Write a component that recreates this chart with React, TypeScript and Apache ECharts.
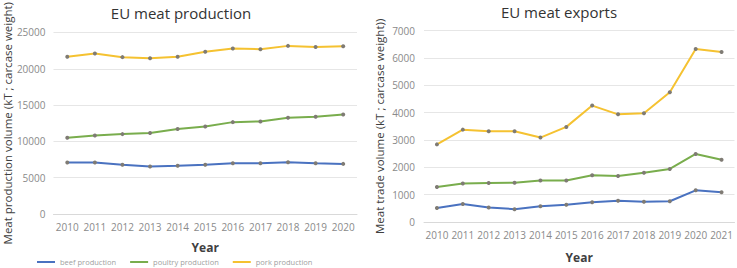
import React, { useEffect, useRef } from "react";
import * as echarts from "echarts";

const prodYears = ["2010", "2011", "2012", "2013", "2014", "2015", "2016", "2017", "2018", "2019", "2020"];
const exportYears = ["2010", "2011", "2012", "2013", "2014", "2015", "2016", "2017", "2018", "2019", "2020", "2021"];

const prodPork = [21650, 22100, 21600, 21450, 21650, 22350, 22800, 22700, 23150, 23000, 23100];
const prodPoultry = [10500, 10800, 11000, 11150, 11700, 12050, 12650, 12750, 13250, 13400, 13700];
const prodBeef = [7080, 7100, 6780, 6540, 6630, 6780, 7000, 7000, 7120, 7000, 6900];

const expPork = [2840, 3380, 3320, 3320, 3090, 3480, 4260, 3940, 3980, 4750, 6330, 6220];
const expPoultry = [1280, 1410, 1430, 1440, 1520, 1520, 1710, 1680, 1800, 1940, 2490, 2280];
const expBeef = [510, 660, 530, 470, 580, 630, 720, 780, 740, 760, 1160, 1090];

const seriesNames = ["beef production", "poultry production", "pork production"];
const seriesColors = ["#4a72c0", "#79ad4d", "#f5c231"];

const FONT = "'Open Sans', sans-serif";

export default function App() {
  const ref = useRef<HTMLDivElement>(null);
  useEffect(() => {
    document.body.style.margin = "0";
    const chart = echarts.init(ref.current!, null, { renderer: "svg" });
    const mkLine = (i: number, data: number[], idx: number) => ({
      type: "line",
      name: seriesNames[i],
      data,
      xAxisIndex: idx,
      yAxisIndex: idx,
      symbol: "circle",
      symbolSize: 4,
      showSymbol: true,
      lineStyle: { color: seriesColors[i], width: 2 },
      itemStyle: { color: "#7f7b74" },
    });
    const axisLabel = {
      color: "#8a8a8a",
      fontSize: 10,
      fontFamily: FONT,
      formatter: (v: any) => String(v),
    };
    const catLabel = { color: "#8a8a8a", fontSize: 10, fontFamily: FONT, interval: 0, margin: 8 };
    const yName = { color: "#404040", fontSize: 11.5, fontFamily: FONT };
    const xName = { color: "#404040", fontSize: 12, fontFamily: FONT, fontWeight: "bold" as const };
    chart.setOption({
      animation: false,
      backgroundColor: "#ffffff",
      title: [
        { text: "EU meat production", left: 176, top: 0, textAlign: "center", textStyle: { fontSize: 15, fontWeight: "normal", color: "#333", fontFamily: FONT } },
        { text: "EU meat exports", left: 554, top: -1, textAlign: "center", textStyle: { fontSize: 15, fontWeight: "normal", color: "#333", fontFamily: FONT } },
      ],
      legend: {
        top: 258,
        left: 37,
        data: seriesNames.map((n, i) => ({ name: n, itemStyle: { color: seriesColors[i] } })),
        itemWidth: 18,
        itemHeight: 2,
        itemGap: 14,
        icon: "rect",
        padding: 0,
        textStyle: { color: "#a0a0a0", fontSize: 7.5, fontFamily: FONT },
      },
      grid: [
        { left: 51, right: 380, top: 31.7, bottom: 54 },
        { left: 424, right: 2.5, top: 30.7, bottom: 34.5 },
      ],
      xAxis: [
        {
          type: "category", gridIndex: 0, data: prodYears,
          axisLine: { lineStyle: { color: "#d9d9d9" } }, axisTick: { show: false },
          axisLabel: catLabel,
          name: "Year", nameLocation: "middle", nameGap: 27.5, nameTextStyle: xName,
        },
        {
          type: "category", gridIndex: 1, data: exportYears,
          axisLine: { lineStyle: { color: "#d9d9d9" } }, axisTick: { show: false },
          axisLabel: catLabel,
          name: "Year", nameLocation: "middle", nameGap: 29, nameTextStyle: xName,
        },
      ],
      yAxis: [
        {
          type: "value", gridIndex: 0, min: 0, max: 25000, interval: 5000,
          axisLine: { show: false }, axisTick: { show: false },
          splitLine: { lineStyle: { color: "#e6e6e6" } },
          axisLabel: { ...axisLabel, margin: 8 },
          name: "Meat production volume (kT ; carcase weight)", nameLocation: "middle", nameRotate: 90, nameGap: 39, nameTextStyle: yName,
        },
        {
          type: "value", gridIndex: 1, min: 0, max: 7000, interval: 1000,
          axisLine: { show: false }, axisTick: { show: false },
          splitLine: { lineStyle: { color: "#e6e6e6" } },
          axisLabel: { ...axisLabel, margin: 9 },
          name: "Meat trade volume (kT ; carcase weight))", nameLocation: "middle", nameRotate: 90, nameGap: 39, nameTextStyle: yName,
        },
      ],
      series: [
        mkLine(0, prodBeef, 0),
        mkLine(1, prodPoultry, 0),
        mkLine(2, prodPork, 0),
        mkLine(0, expBeef, 1),
        mkLine(1, expPoultry, 1),
        mkLine(2, expPork, 1),
      ],
    });
    return () => chart.dispose();
  }, []);
  return <div ref={ref} style={{ width: 737, height: 268 }} />;
}
